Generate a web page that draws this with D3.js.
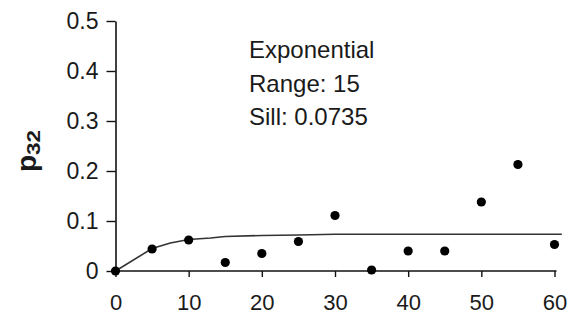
<!DOCTYPE html>
<html>
<head>
<meta charset="utf-8">
<script src="https://cdn.jsdelivr.net/npm/d3@7"></script>
<style>
  html, body { margin: 0; padding: 0; background: #fff; }
  svg text { font-family: "Liberation Sans", Arial, Helvetica, sans-serif; fill: #1a1a1a; }
</style>
</head>
<body>
<svg id="chart" width="574" height="325"></svg>
<script>
// Experimental variogram: lag distance and p32 value
const lags = [0, 5, 10, 15, 20, 25, 30, 35, 40, 45, 50, 55, 60];
const p32Values = [0, 0.044, 0.062, 0.017, 0.035, 0.059, 0.111, 0.002, 0.040, 0.040, 0.138, 0.213, 0.053];

// Fitted exponential model curve
const modelLags = [0, 5, 7.5, 10, 13, 15, 20, 25, 30, 40, 50, 61];
const modelValues = [0, 0.045, 0.056, 0.063, 0.066, 0.069, 0.071, 0.072, 0.0735, 0.0735, 0.0735, 0.0735];

// Axis ticks
const xTicks = [0, 10, 20, 30, 40, 50, 60];
const yTicks = [0, 0.1, 0.2, 0.3, 0.4, 0.5];

// Model annotation
const modelLines = ["Exponential", "Range: 15", "Sill: 0.0735"];

const svg = d3.select("#chart");

const x = d3.scaleLinear().domain([0, 60]).range([115.5, 554.5]);
const y = d3.scaleLinear().domain([0, 0.5]).range([271, 21]);

// X axis
const xAxis = svg.append("g")
  .attr("transform", `translate(0,${y(0)})`)
  .call(d3.axisBottom(x).tickValues(xTicks).tickFormat(d3.format("d"))
    .tickSize(6).tickPadding(17).tickSizeOuter(0));
xAxis.select(".domain").attr("stroke", "#111").attr("stroke-width", 1.6)
  .attr("d", `M${x(0)},0H${x(60) + 2}`);
xAxis.selectAll(".tick line").attr("stroke", "#111").attr("stroke-width", 1.4);
xAxis.selectAll(".tick text").attr("font-size", 22).attr("fill", "#1a1a1a")
  .attr("font-family", "Liberation Sans, Arial, sans-serif");

// Y axis
const yAxis = svg.append("g")
  .attr("transform", `translate(${x(0)},0)`)
  .call(d3.axisLeft(y).tickValues(yTicks).tickFormat(d => d === 0 ? "0" : d3.format(".1f")(d))
    .tickSize(9).tickPadding(8).tickSizeOuter(0));
yAxis.select(".domain").attr("stroke", "#111").attr("stroke-width", 1.6);
yAxis.selectAll(".tick line").attr("stroke", "#111").attr("stroke-width", 1.4);
yAxis.selectAll(".tick text").attr("font-size", 23).attr("fill", "#1a1a1a")
  .attr("font-family", "Liberation Sans, Arial, sans-serif");

// Y axis title: p with subscript 32
const yTitle = svg.append("text")
  .attr("transform", "translate(36,172) rotate(-90)")
  .attr("text-anchor", "start")
  .attr("font-weight", "bold");
yTitle.append("tspan").attr("font-size", 28).text("p");
yTitle.append("tspan").attr("font-size", 18).attr("dy", 4)
  .attr("textLength", 25).attr("lengthAdjust", "spacingAndGlyphs").text("32");

// Model curve
const line = d3.line().x(d => x(d)).y((d, i) => y(modelValues[i]));
svg.append("path")
  .attr("d", line(modelLags))
  .attr("fill", "none")
  .attr("stroke", "#333")
  .attr("stroke-width", 1.6);

// Experimental points
svg.append("g").selectAll("circle")
  .data(lags)
  .join("circle")
  .attr("cx", d => x(d))
  .attr("cy", (d, i) => y(p32Values[i]))
  .attr("r", 4.6)
  .attr("fill", "#000");

// Annotation text
svg.append("g").selectAll("text")
  .data(modelLines)
  .join("text")
  .attr("x", 249)
  .attr("y", (d, i) => 58 + i * 33.5)
  .attr("font-size", 24)
  .text(d => d);
</script>
</body>
</html>
